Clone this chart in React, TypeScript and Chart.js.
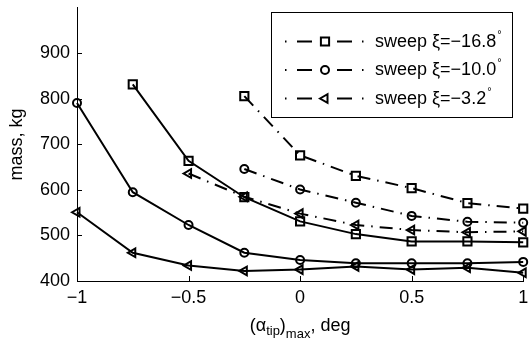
import React, { useEffect, useRef } from "react";
import { Chart, registerables } from "chart.js";

Chart.register(...registerables);

const alphaTip = [-1, -0.75, -0.5, -0.25, 0, 0.25, 0.5, 0.75, 1];

// solid curves (unlabelled)
const solidSquare = [null, 832, 664, 584, 531, 503, 487, 487, 485];
const solidCircle = [791, 595, 523, 462, 446, 439, 439, 439, 442];
const solidTriangle = [551, 462, 434, 422, 425, 432, 425, 429, 418];

// dash-dot curves (legend)
const dashSquare = [null, null, null, 806, 676, 631, 604, 571, 559];
const dashCircle = [null, null, null, 646, 601, 572, 543, 530, 528];
const dashTriangle = [null, null, 636, 585, 548, 523, 512, 507, 509];

const legendLabels = ["sweep ξ=−16.8", "sweep ξ=−10.0", "sweep ξ=−3.2"];
const xTickValues = [-1, -0.5, 0, 0.5, 1];
const yTickValues = [400, 500, 600, 700, 800, 900];

const FONT = "'Liberation Sans', Arial, Helvetica, sans-serif";
const FS = 18;
const DASHDOT = [13, 7, 1.5, 7];

type Marker = "rect" | "circle" | "triangle";

function pts(vals: (number | null)[]) {
  const out: { x: number; y: number }[] = [];
  vals.forEach((v, i) => {
    if (v !== null) out.push({ x: alphaTip[i], y: v });
  });
  return out;
}

function radiusFor(m: Marker) {
  if (m === "rect") return 5.8;
  if (m === "circle") return 4;
  return 5;
}

function ds(vals: (number | null)[], marker: Marker, dashed: boolean, label: string | null) {
  return {
    label: label ?? "",
    data: pts(vals),
    borderColor: "#000",
    borderWidth: 2,
    borderDash: dashed ? DASHDOT : [],
    pointStyle: marker,
    pointRotation: marker === "triangle" ? -90 : 0,
    pointRadius: radiusFor(marker),
    pointBorderWidth: 2,
    pointBorderColor: "#000",
    pointBackgroundColor: "rgba(0,0,0,0)",
    backgroundColor: "rgba(0,0,0,0)",
    fill: false,
    tension: 0,
    clip: false as any,
    _marker: marker,
    _legend: label !== null,
  } as any;
}

function drawMarker(ctx: CanvasRenderingContext2D, m: Marker, x: number, y: number) {
  const r = radiusFor(m);
  ctx.beginPath();
  if (m === "rect") {
    const s = Math.SQRT1_2 * r;
    ctx.rect(x - s, y - s, 2 * s, 2 * s);
  } else if (m === "circle") {
    ctx.arc(x, y, r, 0, Math.PI * 2);
  } else {
    let rad = -Math.PI / 2;
    ctx.moveTo(x + Math.sin(rad) * r, y - Math.cos(rad) * r);
    rad += (2 * Math.PI) / 3;
    ctx.lineTo(x + Math.sin(rad) * r, y - Math.cos(rad) * r);
    rad += (2 * Math.PI) / 3;
    ctx.lineTo(x + Math.sin(rad) * r, y - Math.cos(rad) * r);
    ctx.closePath();
  }
  ctx.stroke();
}

const decorPlugin = {
  id: "decor",
  afterDraw(chart: any) {
    const ctx: CanvasRenderingContext2D = chart.ctx;
    const xs = chart.scales.x;
    const ys = chart.scales.y;
    const { left, right, top, bottom } = chart.chartArea;
    ctx.save();
    ctx.strokeStyle = "#000";
    ctx.fillStyle = "#000";
    ctx.lineWidth = 1;
    // inward ticks
    ctx.beginPath();
    xTickValues.forEach((v) => {
      const px = Math.round(xs.getPixelForValue(v)) + 0.5;
      ctx.moveTo(px, bottom);
      ctx.lineTo(px, bottom - 5);
    });
    yTickValues.forEach((v) => {
      const py = Math.round(ys.getPixelForValue(v)) + 0.5;
      ctx.moveTo(left, py);
      ctx.lineTo(left + 5, py);
    });
    ctx.stroke();

    // y title
    ctx.save();
    ctx.translate(17, (top + bottom) / 2);
    ctx.rotate(-Math.PI / 2);
    ctx.font = `${FS}px ${FONT}`;
    ctx.textAlign = "center";
    ctx.textBaseline = "middle";
    ctx.fillText("mass, kg", 0, 0);
    ctx.restore();

    // x title with subscripts
    const parts: { t: string; size: number; dy: number }[] = [
      { t: "(α", size: FS, dy: 0 },
      { t: "tip", size: 13, dy: 4 },
      { t: ")", size: FS, dy: 0 },
      { t: "max", size: 13, dy: 7 },
      { t: ", deg", size: FS, dy: 0 },
    ];
    let total = 0;
    parts.forEach((p) => {
      ctx.font = `${p.size}px ${FONT}`;
      total += ctx.measureText(p.t).width;
    });
    let cx = (left + right) / 2 - total / 2;
    const base = 331;
    ctx.textAlign = "left";
    ctx.textBaseline = "alphabetic";
    parts.forEach((p) => {
      ctx.font = `${p.size}px ${FONT}`;
      ctx.fillText(p.t, cx, base + p.dy);
      cx += ctx.measureText(p.t).width;
    });

    // legend
    const bx = 271.5, by = 12.5, bw = 241, bh = 105;
    ctx.fillStyle = "#fff";
    ctx.fillRect(bx, by, bw, bh);
    ctx.strokeStyle = "#000";
    ctx.lineWidth = 1;
    ctx.strokeRect(bx, by, bw, bh);
    const legendSets = chart.data.datasets.filter((d: any) => d._legend);
    const rowsY = [41.5, 70, 98.5];
    legendSets.forEach((d: any, i: number) => {
      const y = rowsY[i];
      ctx.strokeStyle = "#000";
      ctx.lineWidth = 2;
      ctx.setLineDash([]);
      ctx.beginPath();
      // dot, dash, marker, dash, dot
      ctx.moveTo(285, y); ctx.lineTo(286.5, y);
      ctx.moveTo(297, y); ctx.lineTo(312, y);
      ctx.moveTo(337, y); ctx.lineTo(352, y);
      ctx.moveTo(362, y); ctx.lineTo(363.5, y);
      ctx.stroke();
      drawMarker(ctx, d._marker, 325, y);
      ctx.fillStyle = "#000";
      ctx.font = `${FS}px ${FONT}`;
      ctx.textAlign = "left";
      ctx.textBaseline = "alphabetic";
      ctx.fillText(d.label, 375, y + 5);
      const w = ctx.measureText(d.label).width;
      ctx.font = `11px ${FONT}`;
      ctx.fillText("°", 375 + w + 1, y - 4);
    });
    ctx.restore();
  },
};

export default function App() {
  const ref = useRef<HTMLCanvasElement | null>(null);
  useEffect(() => {
    document.body.style.margin = "0";
    const canvas = ref.current!;
    const chart = new Chart(canvas, {
      type: "line",
      data: {
        datasets: [
          ds(solidSquare, "rect", false, null),
          ds(solidCircle, "circle", false, null),
          ds(solidTriangle, "triangle", false, null),
          ds(dashSquare, "rect", true, legendLabels[0]),
          ds(dashCircle, "circle", true, legendLabels[1]),
          ds(dashTriangle, "triangle", true, legendLabels[2]),
        ],
      },
      options: {
        animation: false,
        responsive: false,
        devicePixelRatio: 1,
        layout: { padding: { left: 0, right: 5, top: 5, bottom: 0 } },
        plugins: {
          legend: { display: false },
          tooltip: { enabled: false },
          title: { display: false },
        },
        elements: { line: { borderCapStyle: "butt" } },
        scales: {
          x: {
            type: "linear",
            min: -1,
            max: 1,
            afterBuildTicks: (s: any) => {
              s.ticks = xTickValues.map((v) => ({ value: v }));
            },
            ticks: {
              color: "#000",
              font: { family: FONT, size: FS },
              padding: 6,
              maxRotation: 0,
              callback: (v: any) => {
                const n = Number(v);
                return n < 0 ? "−" + String(Math.abs(n)) : String(n);
              },
            },
            grid: { display: false, drawTicks: false },
            border: { display: true, color: "#000", width: 1 },
            afterFit: (s: any) => {
              s.height = 64;
              s.paddingLeft = 0;
              s.paddingRight = 0;
            },
          },
          y: {
            type: "linear",
            min: 400,
            max: 1000,
            afterBuildTicks: (s: any) => {
              s.ticks = yTickValues.map((v) => ({ value: v }));
            },
            ticks: {
              color: "#000",
              font: { family: FONT, size: FS },
              padding: 7,
            },
            grid: { display: false, drawTicks: false },
            border: { display: true, color: "#000", width: 1 },
            afterFit: (s: any) => {
              s.width = 77;
              s.paddingTop = 0;
              s.paddingBottom = 0;
            },
          },
        },
      } as any,
      plugins: [decorPlugin],
    });
    return () => chart.destroy();
  }, []);
  return (
    <div style={{ position: "absolute", left: 0, top: 0, width: 531, height: 345, background: "#fff" }}>
      <canvas ref={ref} width={531} height={345} />
    </div>
  );
}
